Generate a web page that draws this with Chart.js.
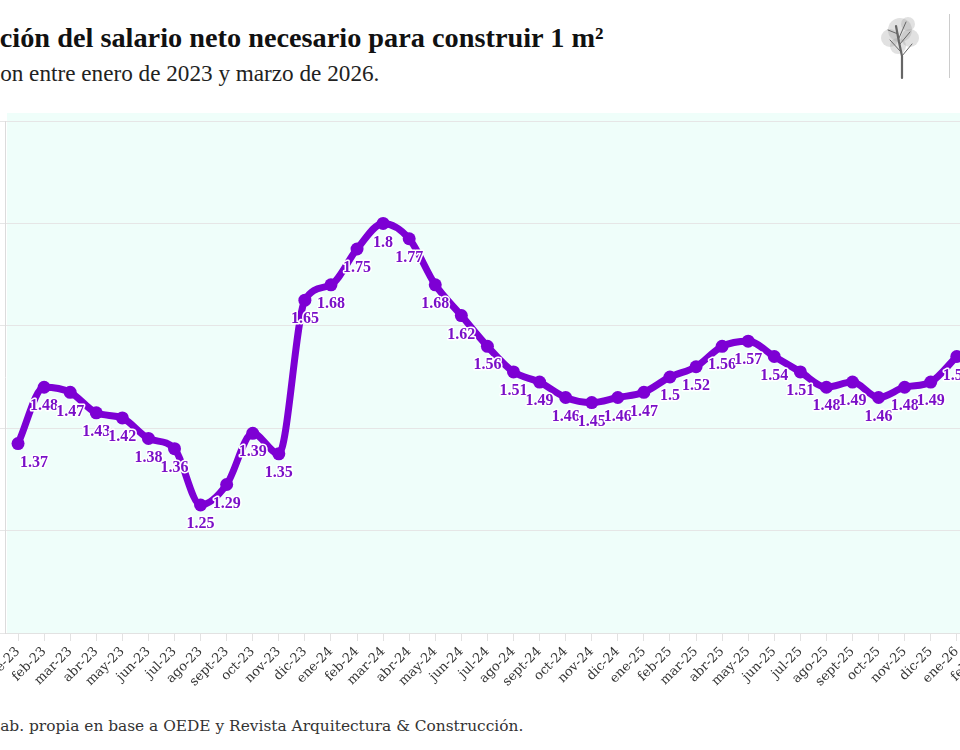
<!DOCTYPE html>
<html lang="es">
<head>
<meta charset="utf-8">
<title>Evolución del salario neto necesario para construir 1 m²</title>
<script src="https://cdn.jsdelivr.net/npm/chart.js@4.4.1/dist/chart.umd.min.js"></script>
<style>
  html, body { margin: 0; padding: 0; background: #fff; }
  body { width: 960px; height: 750px; position: relative; overflow: hidden; }
  .title { position: absolute; top: 22px; left: 0; font: bold 28.3px "Liberation Serif", serif; line-height: 32px; color: #111; white-space: nowrap; }
  .subtitle { position: absolute; top: 60px; left: 0; font: 23.2px "Liberation Serif", serif; line-height: 26px; color: #222; white-space: nowrap; }
  .source { position: absolute; top: 715px; left: 0; font: 15.4px "DejaVu Serif", serif; line-height: 22px; color: #333; white-space: nowrap; }
  #chart-wrap { position: absolute; left: -40px; top: 100px; }
  .logo { position: absolute; left: 878px; top: 12px; }
  .logo-rule { position: absolute; left: 949px; top: 14px; width: 1px; height: 64px; background: #ccc; }
</style>
</head>
<body>
<div class="title"><span class="cut">Evolu</span>ción del salario neto necesario para construir 1 m²</div>
<div class="subtitle"><span class="cut">Evoluci</span>on entre enero de 2023 y marzo de 2026.</div>
<div class="source"><span class="cut">Fuente: El</span>ab. propia en base a OEDE y Revista Arquitectura &amp; Construcción.</div>

<svg class="logo" width="44" height="68" viewBox="0 0 44 68">
  <g fill="#9a9a9a" fill-opacity="0.3">
    <circle cx="22" cy="18" r="12"/>
    <circle cx="12" cy="26" r="9"/>
    <circle cx="32" cy="26" r="9"/>
    <circle cx="20" cy="34" r="8"/>
    <circle cx="30" cy="12" r="7"/>
  </g>
  <g stroke="#666" fill="none" stroke-linecap="round">
    <path d="M24 66 L24 44 L21 30 L18 14" stroke-width="2.2"/>
    <path d="M23 40 L12 28 M22 32 L32 20 M21 26 L28 10 M20 22 L10 18 M24 44 L34 32" stroke-width="1"/>
  </g>
</svg>
<div class="logo-rule"></div>

<div id="chart-wrap"><canvas id="salary-chart" width="1100" height="603"></canvas></div>

<script>
// meses de ene-23 a mar-26
const months = [
    'ene-23', 'feb-23', 'mar-23', 'abr-23', 'may-23', 'jun-23', 'jul-23', 'ago-23', 'sept-23', 'oct-23', 'nov-23', 'dic-23',
    'ene-24', 'feb-24', 'mar-24', 'abr-24', 'may-24', 'jun-24', 'jul-24', 'ago-24', 'sept-24', 'oct-24', 'nov-24', 'dic-24',
    'ene-25', 'feb-25', 'mar-25', 'abr-25', 'may-25', 'jun-25', 'jul-25', 'ago-25', 'sept-25', 'oct-25', 'nov-25', 'dic-25',
    'ene-26', 'feb-26', 'mar-26'
];

// salarios netos por m2; feb-26 y mar-26 quedan fuera del recorte
const salaries = [
    1.37, 1.48, 1.47, 1.43, 1.42, 1.38, 1.36, 1.25, 1.29, 1.39, 1.35, 1.65,
    1.68, 1.75, 1.8, 1.77, 1.68, 1.62, 1.56, 1.51, 1.49, 1.46, 1.45, 1.46,
    1.47, 1.5, 1.52, 1.56, 1.57, 1.54, 1.51, 1.48, 1.49, 1.46, 1.48, 1.49,
    1.54, null, null
];

const yTicks = { min: 1, max: 2, step: 0.2 };

const PURPLE = '#7d00d4';
const LABEL_PURPLE = '#7a10c8';

// push the cut-off text prefixes out of the page
document.querySelectorAll('.cut').forEach(span => {
    span.parentElement.style.marginLeft = `-${span.offsetWidth}px`;
});

const plotBackground = {
    id: 'plotBackground',
    beforeDraw(chart) {
        const { ctx, chartArea: a } = chart;
        ctx.save();
        ctx.fillStyle = '#effefa';
        ctx.fillRect(a.left + 2, a.top - 8, a.right - a.left, a.bottom - a.top + 8);
        ctx.restore();
    }
};

const pointLabels = {
    id: 'pointLabels',
    afterDatasetsDraw(chart) {
        const { ctx } = chart;
        const meta = chart.getDatasetMeta(0);
        ctx.save();
        ctx.font = 'bold 16px "Liberation Serif", serif';
        ctx.textBaseline = 'middle';
        ctx.lineJoin = 'round';
        ctx.lineWidth = 3;
        ctx.strokeStyle = '#ffffff';
        ctx.fillStyle = LABEL_PURPLE;
        meta.data.forEach((pt, i) => {
            const v = salaries[i];
            if (v === null || v === undefined) return;
            let x = pt.x;
            ctx.textAlign = 'center';
            if (i === 0) {
                ctx.textAlign = 'left';
                x = pt.x + 2;
            }
            const y = pt.y + 19;
            ctx.strokeText(String(v), x, y);
            ctx.fillText(String(v), x, y);
        });
        ctx.restore();
    }
};

const ctx = document.getElementById('salary-chart').getContext('2d');
new Chart(ctx, {
    type: 'line',
    data: {
        labels: months,
        datasets: [{
            label: 'Salarios netos por m²',
            data: salaries,
            borderColor: PURPLE,
            backgroundColor: PURPLE,
            borderWidth: 7,
            pointRadius: 6.5,
            pointBorderWidth: 0,
            pointBackgroundColor: PURPLE,
            cubicInterpolationMode: 'monotone',
            spanGaps: false
        }]
    },
    options: {
        responsive: false,
        animation: false,
        layout: { padding: { left: 0, right: 38, top: 21, bottom: 0 } },
        plugins: {
            legend: { display: false },
            tooltip: { enabled: false }
        },
        scales: {
            x: {
                offset: true,
                grid: { display: true, drawOnChartArea: false, drawTicks: true, tickLength: 8, color: '#e2e2e2' },
                border: { display: true, color: '#e2e2e2' },
                ticks: {
                    autoSkip: false,
                    minRotation: 45,
                    maxRotation: 45,
                    padding: 3,
                    color: '#333',
                    font: { family: '"DejaVu Serif", serif', size: 13 }
                },
                afterFit(scale) { scale.height = 70; }
            },
            y: {
                min: yTicks.min,
                max: yTicks.max,
                grid: { color: '#e6e6e6', tickLength: 8 },
                border: { display: true, color: '#dcdcdc' },
                ticks: {
                    stepSize: yTicks.step,
                    color: '#333',
                    font: { family: '"DejaVu Serif", serif', size: 12 }
                },
                afterFit(scale) { scale.width = 45; }
            }
        }
    },
    plugins: [plotBackground, pointLabels]
});
</script>
</body>
</html>
